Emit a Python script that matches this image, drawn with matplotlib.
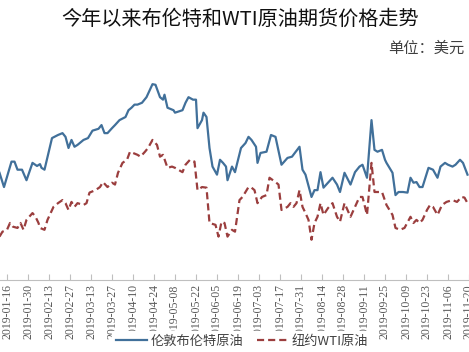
import matplotlib
matplotlib.use("Agg")
import matplotlib.pyplot as plt
import matplotlib.dates as mdates
import pandas as pd

# 伦敦布伦特原油 (USD)
brent_dates = ['2019-01-11', '2019-01-14', '2019-01-19', '2019-01-21', '2019-01-23', '2019-01-26', '2019-01-29',
               '2019-02-02', '2019-02-05', '2019-02-07', '2019-02-08', '2019-02-10', '2019-02-15', '2019-02-19',
               '2019-02-22', '2019-02-24', '2019-02-26', '2019-02-28', '2019-03-02', '2019-03-04', '2019-03-08',
               '2019-03-11', '2019-03-14', '2019-03-18', '2019-03-20', '2019-03-22', '2019-03-24', '2019-03-27',
               '2019-03-29', '2019-04-01', '2019-04-05', '2019-04-07', '2019-04-09', '2019-04-11', '2019-04-13',
               '2019-04-16', '2019-04-19', '2019-04-23', '2019-04-25', '2019-04-28', '2019-04-30', '2019-05-01',
               '2019-05-03', '2019-05-07', '2019-05-08', '2019-05-13', '2019-05-15', '2019-05-17', '2019-05-20',
               '2019-05-22', '2019-05-23', '2019-05-26', '2019-05-27', '2019-05-29', '2019-05-31', '2019-06-02',
               '2019-06-05', '2019-06-07', '2019-06-09', '2019-06-11', '2019-06-12', '2019-06-15', '2019-06-17',
               '2019-06-18', '2019-06-21', '2019-06-24', '2019-06-26', '2019-06-28', '2019-07-01', '2019-07-02',
               '2019-07-04', '2019-07-08', '2019-07-11', '2019-07-14', '2019-07-18', '2019-07-22', '2019-07-25',
               '2019-07-30', '2019-08-01', '2019-08-03', '2019-08-07', '2019-08-09', '2019-08-11', '2019-08-13',
               '2019-08-15', '2019-08-18', '2019-08-21', '2019-08-24', '2019-08-26', '2019-08-29', '2019-09-02',
               '2019-09-05', '2019-09-08', '2019-09-10', '2019-09-13', '2019-09-16', '2019-09-18', '2019-09-20',
               '2019-09-23', '2019-09-25', '2019-09-26', '2019-09-30', '2019-10-02', '2019-10-04', '2019-10-07',
               '2019-10-10', '2019-10-12', '2019-10-14', '2019-10-16', '2019-10-18', '2019-10-20', '2019-10-24',
               '2019-10-27', '2019-10-30', '2019-11-01', '2019-11-04', '2019-11-06', '2019-11-09', '2019-11-11',
               '2019-11-14', '2019-11-16', '2019-11-19']
brent_values = [60.1, 57.8, 61.9, 61.9, 60.6, 60.6, 58.9,
                61.7, 61.2, 61.5, 60.9, 60.6, 65.7, 66.2,
                66.5, 65.9, 64.1, 65.4, 64.3, 64.6, 65.4,
                65.7, 66.9, 67.2, 67.8, 66.5, 66.5, 67.3,
                67.8, 68.6, 69.1, 70.2, 70.6, 71.1, 71.1,
                71.4, 72.3, 74.4, 74.3, 72.3, 71.9, 72.7,
                70.6, 70.2, 69.8, 70.2, 71.4, 72.3, 71.9,
                71.9, 67.3, 68.6, 69.8, 69.1, 64.1, 61.1,
                59.8, 62.2, 61.7, 61.1, 58.9, 61.1, 60.2,
                61.2, 64.1, 64.9, 65.9, 65.4, 64.3, 61.7,
                63.3, 63.5, 66.2, 65.9, 61.4, 62.5, 62.7,
                64.3, 60.6, 59.8, 56.2, 57.3, 57.3, 60.2,
                57.7, 58.5, 59.3, 58.2, 57.0, 60.1, 58.2,
                60.2, 61.1, 61.4, 59.3, 68.6, 63.8, 63.5,
                63.8, 62.2, 61.7, 60.1, 56.5, 57.0, 57.0,
                56.9, 59.3, 58.5, 58.6, 57.8, 57.8, 60.9,
                60.6, 59.3, 61.1, 61.7, 61.4, 61.1, 61.4,
                62.2, 61.7, 59.8]

# 纽约WTI原油
wti_dates = ['2019-01-11', '2019-01-13', '2019-01-16', '2019-01-18', '2019-01-20', '2019-01-23', '2019-01-25',
             '2019-01-27', '2019-01-29', '2019-02-02', '2019-02-04', '2019-02-06', '2019-02-07', '2019-02-10',
             '2019-02-12', '2019-02-16', '2019-02-19', '2019-02-22', '2019-02-24', '2019-02-26', '2019-02-28',
             '2019-03-02', '2019-03-04', '2019-03-08', '2019-03-10', '2019-03-12', '2019-03-16', '2019-03-19',
             '2019-03-21', '2019-03-24', '2019-03-27', '2019-03-29', '2019-03-31', '2019-04-03', '2019-04-06',
             '2019-04-08', '2019-04-10', '2019-04-13', '2019-04-15', '2019-04-18', '2019-04-20', '2019-04-23',
             '2019-04-26', '2019-04-28', '2019-04-30', '2019-05-03', '2019-05-06', '2019-05-08', '2019-05-13',
             '2019-05-15', '2019-05-18', '2019-05-21', '2019-05-23', '2019-05-26', '2019-05-29', '2019-05-31',
             '2019-06-04', '2019-06-06', '2019-06-08', '2019-06-10', '2019-06-12', '2019-06-15', '2019-06-17',
             '2019-06-20', '2019-06-22', '2019-06-26', '2019-06-28', '2019-06-30', '2019-07-02', '2019-07-05',
             '2019-07-08', '2019-07-10', '2019-07-14', '2019-07-16', '2019-07-18', '2019-07-22', '2019-07-24',
             '2019-07-26', '2019-07-28', '2019-07-30', '2019-08-01', '2019-08-03', '2019-08-05', '2019-08-07',
             '2019-08-09', '2019-08-11', '2019-08-13', '2019-08-15', '2019-08-18', '2019-08-21', '2019-08-24',
             '2019-08-26', '2019-08-29', '2019-09-02', '2019-09-05', '2019-09-08', '2019-09-10', '2019-09-13',
             '2019-09-16', '2019-09-18', '2019-09-23', '2019-09-26', '2019-09-30', '2019-10-02', '2019-10-05',
             '2019-10-08', '2019-10-12', '2019-10-14', '2019-10-16', '2019-10-18', '2019-10-20', '2019-10-23',
             '2019-10-25', '2019-10-27', '2019-10-30', '2019-11-02', '2019-11-05', '2019-11-09', '2019-11-12',
             '2019-11-15', '2019-11-17', '2019-11-19']
wti_values = [49.8, 50.6, 50.9, 52.0, 51.4, 51.2, 52.0,
              50.9, 52.5, 53.6, 53.0, 52.0, 51.2, 50.9,
              52.5, 54.6, 55.2, 55.7, 55.2, 54.1, 55.4,
              54.6, 55.2, 54.9, 55.2, 56.9, 57.3, 57.8,
              58.6, 57.8, 58.5, 58.2, 60.1, 61.7, 62.2,
              63.5, 63.3, 63.0, 62.7, 63.5, 64.1, 65.4,
              64.6, 62.7, 63.0, 60.9, 61.1, 60.9, 60.2,
              61.4, 62.2, 61.9, 57.3, 57.8, 57.7, 52.0,
              51.7, 49.8, 52.2, 52.0, 49.8, 50.9, 50.6,
              55.7, 56.2, 57.8, 57.7, 57.3, 55.2, 56.2,
              56.5, 59.3, 58.6, 58.2, 54.1, 54.6, 55.2,
              54.6, 55.2, 57.3, 54.6, 53.6, 52.5, 49.3,
              52.0, 53.0, 55.2, 53.3, 54.4, 55.2, 53.0,
              52.2, 55.2, 53.0, 54.6, 56.2, 56.2, 53.3,
              61.7, 57.0, 57.0, 54.9, 53.3, 51.2, 50.9,
              51.2, 53.0, 52.0, 52.5, 52.0, 52.5, 54.1,
              54.9, 54.6, 53.3, 54.9, 55.4, 55.7, 55.4,
              56.2, 56.1, 55.2]

tick_start = '2019-01-16'
tick_end = '2019-11-20'
title = '今年以来布伦特和WTI原油期货价格走势'
unit = '单位：美元'
labels = ['伦敦布伦特原油', '纽约WTI原油']

cjk = ['Noto Sans CJK SC', 'DejaVu Sans']

fig = plt.figure(figsize=(4.69, 3.52), dpi=100)
fig.patch.set_facecolor('white')

# plot area spans the whole width (the source image was cropped)
ax = fig.add_axes([0.0, 72 / 352, 1.0, 220 / 352])

ax.plot(pd.to_datetime(brent_dates), brent_values, color='#41709a', lw=1.6,
        solid_joinstyle='round', label=labels[0])
ax.plot(pd.to_datetime(wti_dates), wti_values, color='#9b3e3e', lw=1.6,
        dashes=(3.2, 1.8), label=labels[1])

t0 = pd.Timestamp(tick_start)
ax.set_xlim(t0 - pd.Timedelta(days=7 / 1.5), pd.Timestamp(tick_end))
ax.set_ylim(42.8, 78.3)

ticks = pd.date_range(tick_start, tick_end, freq='14D')
ax.set_xticks(ticks)
ax.xaxis.set_major_formatter(mdates.DateFormatter('%Y-%m-%d'))
ax.tick_params(axis='x', direction='in', length=4, width=0.8, color='#bfbfbf',
               labelsize=8.5, labelcolor='#595959', pad=3)
for lab in ax.get_xticklabels():
    lab.set_rotation(90)
    lab.set_family('Liberation Serif')

ax.set_yticks([])
for side in ['left', 'right', 'top']:
    ax.spines[side].set_visible(False)
ax.spines['bottom'].set_color('#bfbfbf')
ax.spines['bottom'].set_linewidth(0.8)

fig.text(240 / 469, 1 - 19 / 352, title, ha='center', va='center',
         fontsize=14.5, family=cjk, color='#111111')
fig.text(388 / 469, 1 - 48 / 352, unit, ha='left', va='center',
         fontsize=11, family=cjk, color='#404040')

leg = fig.legend(loc='center', bbox_to_anchor=(242 / 469, 11 / 352), ncol=2,
                 frameon=True, fancybox=False, framealpha=1, edgecolor='white',
                 facecolor='white', prop={'family': cjk, 'size': 9.5},
                 handlelength=2.4, handletextpad=0.2, columnspacing=1.1,
                 borderpad=0.3)
for txt in leg.get_texts():
    txt.set_color('#404040')

fig.savefig('out.png', dpi=100, facecolor='white')
